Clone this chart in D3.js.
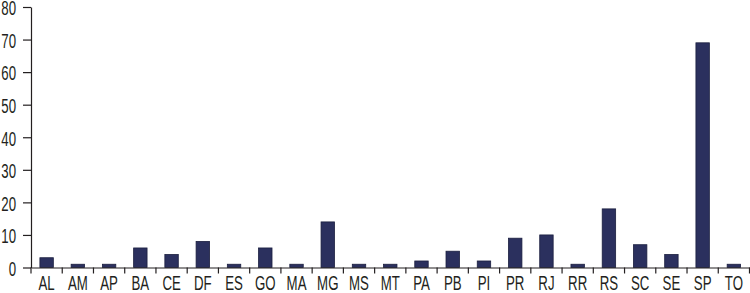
<!DOCTYPE html>
<html>
<head>
<meta charset="utf-8">
<script src="https://cdn.jsdelivr.net/npm/d3@7"></script>
<style>
  body { margin: 0; background: #fff; }
  svg text { font-family: "Liberation Sans", Arial, sans-serif; fill: #231f20; }
</style>
</head>
<body>
<svg id="chart" width="750" height="293"></svg>
<script>
const states = ['AL', 'AM', 'AP', 'BA', 'CE', 'DF', 'ES', 'GO', 'MA', 'MG', 'MS', 'MT',
  'PA', 'PB', 'PI', 'PR', 'RJ', 'RR', 'RS', 'SC', 'SE', 'SP', 'TO'];
const counts = [3, 1, 1, 6, 4, 8, 1, 6, 1, 14, 1, 1, 2, 5, 2, 9, 10, 1, 18, 7, 4, 69, 1];
const yTicks = [0, 10, 20, 30, 40, 50, 60, 70, 80];

const svg = d3.select('#chart');

// plot area edges
const plot = { left: 31, right: 749.5, top: 7, bottom: 267.5 };

const x = d3.scaleBand().domain(states).range([plot.left, plot.right]);
const y = d3.scaleLinear().domain([0, 80]).range([plot.bottom, plot.top]);

const barW = x.bandwidth() * 0.43;

// squeeze labels horizontally, the original uses a condensed face
function narrow(sel) {
  sel.style('font-size', '19.5px').each(function () {
    const t = d3.select(this);
    const tx = +t.attr('x') || 0;
    t.attr('x', 0).attr('transform', `translate(${tx},0) scale(0.68,1)`);
  });
}

// bars
svg.append('g')
  .selectAll('rect')
  .data(counts)
  .enter()
  .append('rect')
  .attr('x', (d, i) => x(states[i]) + (x.bandwidth() - barW) / 2)
  .attr('y', d => y(d))
  .attr('width', barW)
  .attr('height', d => y(0) - y(d))
  .attr('fill', '#2b305e')
  .attr('stroke', '#1b1f3f')
  .attr('stroke-width', 0.8);

// y axis
const yAxis = svg.append('g')
  .attr('transform', `translate(${plot.left},0)`)
  .call(d3.axisLeft(y).tickValues(yTicks).tickSize(8).tickPadding(7).tickSizeOuter(0));
yAxis.selectAll('text').call(narrow).attr('dy', '0.4em');

// x axis, ticks at band edges
const xAxis = svg.append('g')
  .attr('transform', `translate(0,${plot.bottom})`)
  .call(d3.axisBottom(x).tickSize(0).tickPadding(8.5));
xAxis.selectAll('text').call(narrow);
xAxis.selectAll('.edge')
  .data(states.concat(['end']))
  .enter()
  .append('line')
  .attr('class', 'edge')
  .attr('x1', (d, i) => i < states.length ? x(d) : plot.right)
  .attr('x2', (d, i) => i < states.length ? x(d) : plot.right)
  .attr('y1', 0)
  .attr('y2', 6);

svg.selectAll('.domain, .tick line, .edge').attr('stroke', '#231f20').attr('stroke-width', 1.2);
</script>
</body>
</html>
